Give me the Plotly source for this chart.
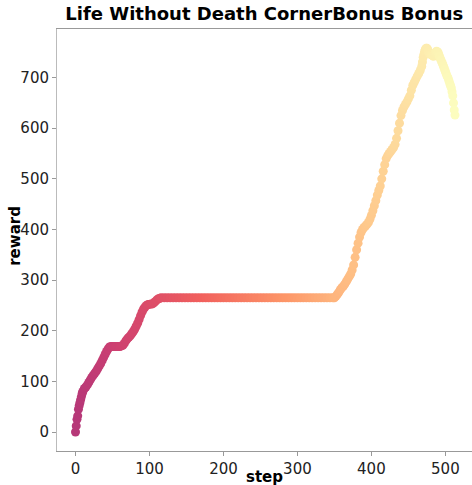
import plotly.graph_objects as go

steps = [0, 1, 2, 3, 4, 5, 6, 7, 8, 9, 10, 12, 14, 16, 18, 20, 22, 24, 26, 28,
         30, 32, 34, 36, 38, 40, 42, 44, 46, 48, 50, 52, 54, 56, 58, 60, 62, 64, 66, 68,
         70, 72, 74, 76, 78, 80, 82, 84, 86, 88, 90, 92, 94, 96, 98, 100, 102, 104, 106, 108,
         110, 112, 114, 116,
         120, 124, 128, 132, 136, 140, 144, 148, 152, 156, 160, 164, 168, 172, 176,
         180, 184, 188, 192, 196, 200, 204, 208, 212, 216, 220, 224, 228, 232, 236,
         240, 244, 248, 252, 256, 260, 264, 268, 272, 276, 280, 284, 288, 292, 296,
         300, 304, 308, 312, 316, 320, 324, 328, 332, 336, 340, 344, 348,
         350, 352, 354, 356, 358, 360, 362, 364, 366, 368, 370, 372, 374, 376, 378,
         380, 382, 384, 386, 388, 390, 392, 394, 396, 398, 400, 402, 404, 406, 408,
         410, 412, 414, 416, 418, 420, 422, 424, 426, 428, 430, 432, 434, 436, 438,
         440, 442, 444, 446, 448, 450, 452, 454, 456, 458, 460, 462, 464, 466, 468,
         469, 470, 471, 472, 473, 474, 475, 476, 477, 478, 479, 480, 481, 482, 483,
         484, 485, 486, 487, 488, 489, 490, 491, 492, 493, 494, 495, 496, 497, 498,
         499, 500, 501, 502, 503, 504, 505, 506, 507, 508, 509, 510, 511, 512, 513]

rewards = [0, 12, 25, 32, 45, 52, 58, 64, 70, 76, 80, 86, 89, 93, 98, 103, 108, 112, 116, 120,
           125, 130, 135, 141, 147, 153, 159, 164, 168, 169, 169, 169, 169, 169, 169, 169, 170, 171, 175, 180,
           184, 187, 190, 194, 198, 203, 209, 215, 222, 230, 237, 243, 247, 250, 252, 252, 253, 253, 255, 258,
           261, 263, 264, 265,
           265, 265, 265, 265, 265, 265, 265, 265, 265, 265, 265, 265, 265, 265, 265,
           265, 265, 265, 265, 265, 265, 265, 265, 265, 265, 265, 265, 265, 265, 265,
           265, 265, 265, 265, 265, 265, 265, 265, 265, 265, 265, 265, 265, 265, 265,
           265, 265, 265, 265, 265, 265, 265, 265, 265, 265, 265, 265, 265,
           265, 268, 272, 276, 281, 285, 288, 292, 297, 302, 307, 312, 320, 330, 345,
           360, 373, 385, 394, 400, 404, 407, 410, 414, 420, 428, 437, 447, 457, 468,
           477, 486, 500, 515, 528, 540, 546, 550, 554, 558, 562, 568, 580, 595, 610,
           625, 635, 642, 647, 652, 658, 664, 675, 685, 691, 697, 703, 708, 714, 722,
           731, 740, 746, 752, 756, 758, 758, 756, 752, 748, 747, 746, 745, 745, 743,
           742, 745, 748, 750, 752, 751, 750, 746, 742, 738, 735, 731, 728, 724, 720,
           716, 712, 708, 704, 701, 698, 693, 688, 684, 680, 672, 664, 650, 636, 626]

fig = go.Figure()
fig.add_trace(go.Scatter(
    x=steps, y=rewards, mode="markers",
    marker=dict(size=9, color=steps, colorscale="Magma", cmin=-513, cmax=513,
                line=dict(width=0)),
    showlegend=False,
))

axis_font = dict(family="DejaVu Sans", size=15, color="#222222")
label_font = dict(family="DejaVu Sans", size=15, color="black")
fig.update_layout(
    width=472, height=485,
    template="plotly_white",
    plot_bgcolor="white",
    title=dict(text="<b>Life Without Death CornerBonus Bonus</b>", x=0.56, xanchor="center",
               y=0.985, yanchor="top",
               font=dict(family="DejaVu Sans", size=18, color="black")),
    margin=dict(l=57, r=0, t=29, b=34),
    xaxis=dict(range=[-25, 536], tickvals=[0, 100, 200, 300, 400, 500], automargin=False,
               showgrid=False, zeroline=False, showline=True, linecolor="#999999",
               linewidth=1, mirror=True, ticks="outside", ticklen=4, tickcolor="#999999",
               tickfont=axis_font),
    yaxis=dict(range=[-37.5, 796], tickvals=[0, 100, 200, 300, 400, 500, 600, 700],
               automargin=False,
               showgrid=False, zeroline=False, showline=True, linecolor="#bbbbbb",
               linewidth=1, ticks="outside", ticklen=4, tickcolor="#999999",
               tickfont=axis_font),
    annotations=[
        dict(text="<b>step</b>", xref="paper", yref="paper", x=0.5, y=0,
             xanchor="center", yanchor="top", yshift=-15, showarrow=False, font=label_font),
        dict(text="<b>reward</b>", xref="paper", yref="paper", x=0, y=0.51,
             xanchor="center", yanchor="middle", xshift=-42, textangle=-90,
             showarrow=False, font=label_font),
    ],
)

fig.write_html("out.html", config={"displayModeBar": False},
               post_script="document.body.style.margin='0';document.body.style.overflow='hidden';")
